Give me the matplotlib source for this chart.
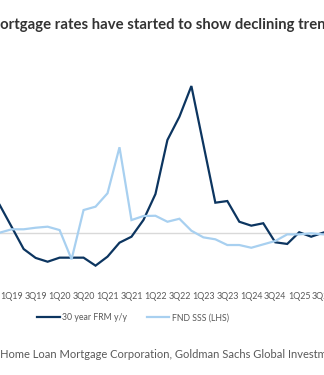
import matplotlib
matplotlib.use("Agg")
import matplotlib.pyplot as plt

# ------------------------------------------------------------------------------
quarters = ["4Q18", "1Q19", "2Q19", "3Q19", "4Q19", "1Q20", "2Q20", "3Q20",
            "4Q20", "1Q21", "2Q21", "3Q21", "4Q21", "1Q22", "2Q22", "3Q22",
            "4Q22", "1Q23", "2Q23", "3Q23", "4Q23", "1Q24", "2Q24", "3Q24",
            "4Q24", "1Q25", "2Q25", "3Q25"]

# 30 year fixed rate mortgage, % y/y (RHS)
frm_yoy = [22.3, 5.0, -12.4, -19.4, -22.4, -19.2, -19.2, -19.2,
           -25.5, -18.4, -7.4, -2.7, 10.5, 30.9, 73.5, 91.8,
           116.0, 70.1, 24.1, 25.4, 9.1, 6.0, 7.9, -7.1,
           -8.4, 0.8, -2.7, 0.5]

# Floor & Decor same store sales, % (LHS)
fnd_sss = [0.5, 3.1, 3.1, 4.3, 5.1, 2.5, -20.0, 17.9,
           20.5, 30.8, 66.2, 10.2, 13.3, 13.5, 8.9, 11.2,
           2.0, -3.1, -4.6, -9.0, -9.0, -11.1, -8.5, -5.9,
           -0.8, -0.8, 0.0, -0.8]

tick_labels = quarters[1::2]

title = "Mortgage rates have started to show declining trends"
source = "Source: Federal Home Loan Mortgage Corporation, Goldman Sachs Global Investment Research"

DARK = "#0c3560"
LIGHT = "#a8d0f0"
GREY = "#595959"
FONT = "Lato"

W, H = 324, 375

# ==============================================================================
fig = plt.figure(figsize=(W / 100, H / 100), dpi=100)
renderer = fig.canvas.get_renderer()


def prefix_width(full_word, rest, **kw):
    # width in px of the part of the text that runs off the left edge
    a = fig.text(0, 0, full_word, **kw)
    b = fig.text(0, 0, rest, **kw)
    w = a.get_window_extent(renderer).width - b.get_window_extent(renderer).width
    a.remove()
    b.remove()
    return w


title_kw = dict(fontsize=10.7, weight="bold", color="#333333", family=FONT)
dx = prefix_width("Mortgage", "ortgage", **title_kw)
fig.text(-dx / W, 1 - 25 / H, title, va="center", ha="left", **title_kw)

src_kw = dict(fontsize=8.0, color=GREY, family=FONT)
dx = prefix_width("Source: Federal Home", "Home", **src_kw)
fig.text(-dx / W, 1 - 355 / H, source, va="center", ha="left", **src_kw)

ax = fig.add_axes([0, 1 - 280 / H, 1, 220 / H])
ax2 = ax.twinx()

x = list(range(len(quarters)))
ax.axhline(0, color="#d9d9d9", lw=1.0, zorder=0)
l1, = ax.plot(x, frm_yoy, color=DARK, lw=1.6, solid_joinstyle="miter")
l2, = ax2.plot(x, fnd_sss, color=LIGHT, lw=1.6, solid_joinstyle="miter")

ax.set_xlim(0.025, 27.07)
ax.set_ylim(-36.8, 136.5)
ax2.set_ylim(-35.9, 133.3)

ax.set_xticks(x[1::2])
ax.set_xticklabels(tick_labels, fontsize=6.4, color=GREY, family=FONT)
ax.tick_params(axis="x", length=0, pad=8.5)
for a in (ax, ax2):
    a.set_yticks([])
    for s in a.spines.values():
        s.set_visible(False)
    a.patch.set_visible(False)

fig.legend([l1, l2], ["30 year FRM y/y", "FND SSS (LHS)"],
           loc="center", bbox_to_anchor=(133 / W, 1 - 318 / H), ncol=2,
           frameon=False, handlelength=2.6, handletextpad=0.25,
           columnspacing=2.2, borderpad=0,
           prop={"family": FONT, "size": 6.3}, labelcolor=GREY)

fig.savefig("out.png", dpi=100)
